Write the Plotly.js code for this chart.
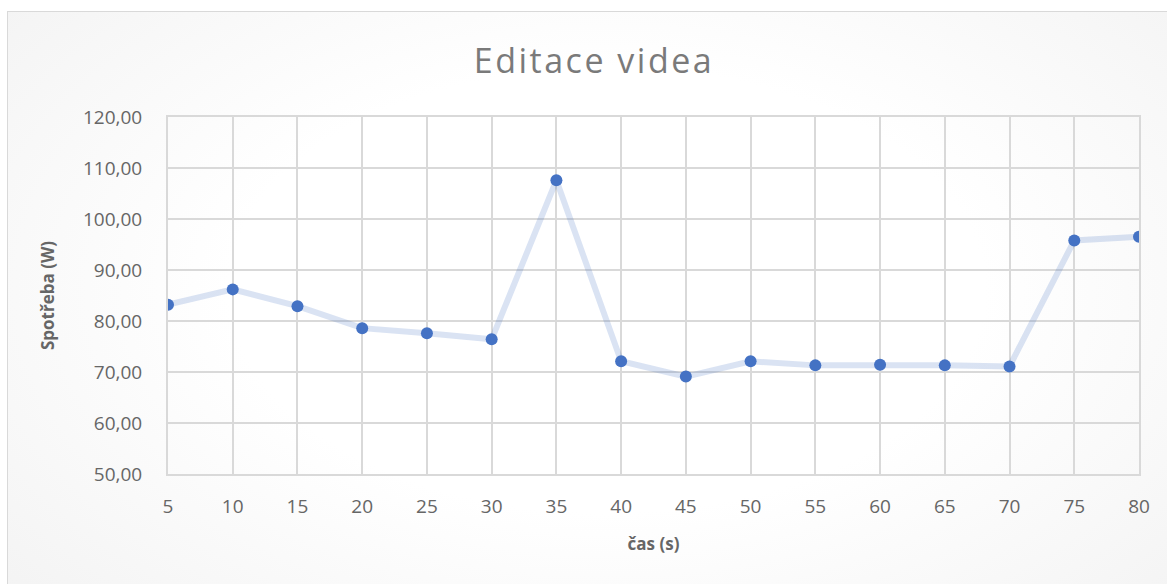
<!DOCTYPE html>
<html>
<head>
<meta charset="utf-8">
<script src="https://cdn.plot.ly/plotly-3.0.1.min.js"></script>
<style>
  html, body { margin: 0; padding: 0; width: 1167px; height: 584px; overflow: hidden; background: #ffffff; }
  #frame { position: absolute; left: 7px; top: 11px; width: 1200px; height: 620px;
    border: 1.5px solid #d9d9d9; box-sizing: border-box;
    background: radial-gradient(ellipse 70% 80% at 50% 45%, #ffffff 0%, #ffffff 45%, #f2f2f2 100%); }
  #chart { position: absolute; left: 0; top: 0; width: 1167px; height: 584px; }
  #chart .gtitle { letter-spacing: 2.5px; }
</style>
</head>
<body>
<div id="frame"></div>
<div id="chart"></div>
<script>
const categories = [5, 10, 15, 20, 25, 30, 35, 40, 45, 50, 55, 60, 65, 70, 75, 80];
const consumption = [83.2, 86.2, 82.9, 78.6, 77.6, 76.4, 107.6, 72.1, 69.1, 72.1, 71.3, 71.4, 71.3, 71.1, 95.8, 96.5];
const yTicks = [50, 60, 70, 80, 90, 100, 110, 120];
const titleText = 'Editace videa';
const xTitle = 'čas (s)';
const yTitle = 'Spotřeba (W)';

const gray = '#595959';
const grid = '#d9d9d9';

const traces = [
  {
    x: categories, y: consumption, type: 'scatter', mode: 'lines',
    line: { color: 'rgba(68,114,196,0.2)', width: 6 },
    hoverinfo: 'skip', showlegend: false
  },
  {
    x: categories, y: consumption, type: 'scatter', mode: 'markers',
    marker: { color: '#4472C4', size: 12 },
    showlegend: false
  }
];

const layout = {
  width: 1167, height: 584,
  margin: { l: 168, r: 28, t: 117, b: 110 },
  paper_bgcolor: 'rgba(0,0,0,0)',
  plot_bgcolor: 'rgba(0,0,0,0)',
  separators: ', ',
  font: { family: 'Open Sans, sans-serif', color: gray },
  title: {
    text: titleText, x: 0.509, xanchor: 'center', y: 0.895, yanchor: 'middle',
    font: { family: 'Open Sans, sans-serif', size: 34, color: '#7a7a7a', weight: 400 }
  },
  xaxis: {
    type: 'linear', range: [5, 80], tickvals: categories, ticktext: categories.map(String),
    showgrid: true, gridcolor: grid, gridwidth: 2, zeroline: false,
    showline: true, linecolor: grid, linewidth: 2, mirror: true,
    ticks: '', ticklabelstandoff: 14,
    tickfont: { size: 19, color: '#666666' },
    title: { text: xTitle, standoff: 20, font: { size: 17, color: '#666666', weight: 'bold' } }
  },
  yaxis: {
    range: [50, 120], tickvals: yTicks, tickformat: '.2f',
    showgrid: true, gridcolor: grid, gridwidth: 2, zeroline: false,
    showline: true, linecolor: grid, linewidth: 2, mirror: true,
    ticks: '', ticklabelstandoff: 20,
    tickfont: { size: 19, color: '#666666' },
    title: { text: yTitle, standoff: 24, font: { size: 17, color: '#666666', weight: 'bold' } }
  }
};

Plotly.newPlot('chart', traces, layout, { displayModeBar: false, staticPlot: true });
</script>
</body>
</html>
